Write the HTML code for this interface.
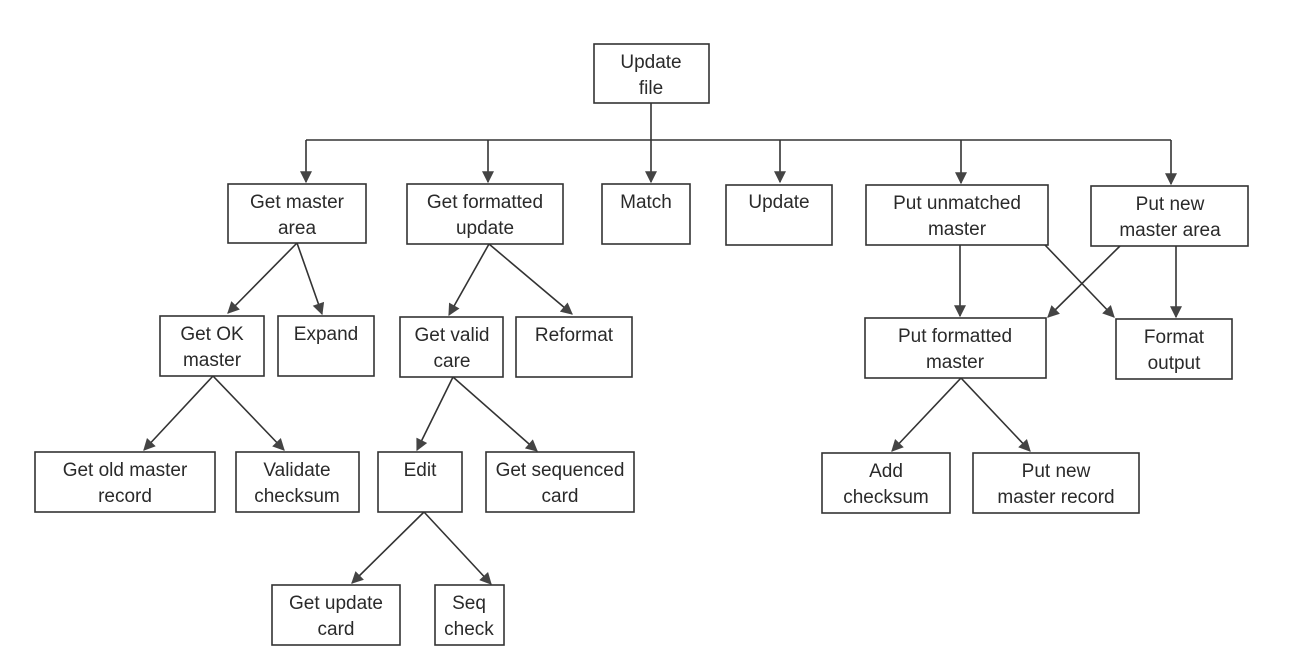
<!DOCTYPE html>
<html><head><meta charset="utf-8"><style>
html,body{margin:0;padding:0;background:#fff;}
svg{display:block;}
text{font-family:"Liberation Sans",sans-serif;font-size:19px;fill:#2a2a2a;text-anchor:middle;}
rect{fill:#fff;stroke:#333;stroke-width:1.6;}
line{stroke:#333;stroke-width:1.6;}
</style></head><body>
<svg width="1316" height="660" viewBox="0 0 1316 660" xmlns="http://www.w3.org/2000/svg">
<defs><marker id="a" viewBox="0 0 10 10" refX="9" refY="5" markerWidth="13" markerHeight="12" markerUnits="userSpaceOnUse" orient="auto"><path d="M0,0 L10,5 L0,10 z" fill="#444"/></marker></defs>
<line x1="651" y1="103" x2="651" y2="182" marker-end="url(#a)"/>
<line x1="306" y1="140" x2="1171" y2="140"/>
<line x1="306" y1="140" x2="306" y2="182" marker-end="url(#a)"/>
<line x1="488" y1="140" x2="488" y2="182" marker-end="url(#a)"/>
<line x1="780" y1="140" x2="780" y2="182" marker-end="url(#a)"/>
<line x1="961" y1="140" x2="961" y2="183" marker-end="url(#a)"/>
<line x1="1171" y1="140" x2="1171" y2="184" marker-end="url(#a)"/>
<line x1="297" y1="243" x2="228" y2="313" marker-end="url(#a)"/>
<line x1="297" y1="243" x2="322" y2="314" marker-end="url(#a)"/>
<line x1="489" y1="244" x2="449" y2="315" marker-end="url(#a)"/>
<line x1="489" y1="244" x2="572" y2="314" marker-end="url(#a)"/>
<line x1="960" y1="245" x2="960" y2="316" marker-end="url(#a)"/>
<line x1="1045" y1="245" x2="1114" y2="317" marker-end="url(#a)"/>
<line x1="1120" y1="246" x2="1048" y2="317" marker-end="url(#a)"/>
<line x1="1176" y1="246" x2="1176" y2="317" marker-end="url(#a)"/>
<line x1="213" y1="376" x2="144" y2="450" marker-end="url(#a)"/>
<line x1="213" y1="376" x2="284" y2="450" marker-end="url(#a)"/>
<line x1="453" y1="377" x2="417" y2="450" marker-end="url(#a)"/>
<line x1="453" y1="377" x2="537" y2="451" marker-end="url(#a)"/>
<line x1="961" y1="378" x2="892" y2="451" marker-end="url(#a)"/>
<line x1="961" y1="378" x2="1030" y2="451" marker-end="url(#a)"/>
<line x1="424" y1="512" x2="352" y2="583" marker-end="url(#a)"/>
<line x1="424" y1="512" x2="491" y2="584" marker-end="url(#a)"/>
<rect x="594" y="44" width="115" height="59"/><text x="651" y="68">Update</text><text x="651" y="94">file</text>
<rect x="228" y="184" width="138" height="59"/><text x="297" y="208">Get master</text><text x="297" y="234">area</text>
<rect x="407" y="184" width="156" height="60"/><text x="485" y="208">Get formatted</text><text x="485" y="234">update</text>
<rect x="602" y="184" width="88" height="60"/><text x="646" y="208">Match</text>
<rect x="726" y="185" width="106" height="60"/><text x="779" y="208">Update</text>
<rect x="866" y="185" width="182" height="60"/><text x="957" y="209">Put unmatched</text><text x="957" y="235">master</text>
<rect x="1091" y="186" width="157" height="60"/><text x="1170" y="210">Put new</text><text x="1170" y="236">master area</text>
<rect x="160" y="316" width="104" height="60"/><text x="212" y="340">Get OK</text><text x="212" y="366">master</text>
<rect x="278" y="316" width="96" height="60"/><text x="326" y="340">Expand</text>
<rect x="400" y="317" width="103" height="60"/><text x="452" y="341">Get valid</text><text x="452" y="367">care</text>
<rect x="516" y="317" width="116" height="60"/><text x="574" y="341">Reformat</text>
<rect x="865" y="318" width="181" height="60"/><text x="955" y="342">Put formatted</text><text x="955" y="368">master</text>
<rect x="1116" y="319" width="116" height="60"/><text x="1174" y="343">Format</text><text x="1174" y="369">output</text>
<rect x="35" y="452" width="180" height="60"/><text x="125" y="476">Get old master</text><text x="125" y="502">record</text>
<rect x="236" y="452" width="123" height="60"/><text x="297" y="476">Validate</text><text x="297" y="502">checksum</text>
<rect x="378" y="452" width="84" height="60"/><text x="420" y="476">Edit</text>
<rect x="486" y="452" width="148" height="60"/><text x="560" y="476">Get sequenced</text><text x="560" y="502">card</text>
<rect x="822" y="453" width="128" height="60"/><text x="886" y="477">Add</text><text x="886" y="503">checksum</text>
<rect x="973" y="453" width="166" height="60"/><text x="1056" y="477">Put new</text><text x="1056" y="503">master record</text>
<rect x="272" y="585" width="128" height="60"/><text x="336" y="609">Get update</text><text x="336" y="635">card</text>
<rect x="435" y="585" width="69" height="60"/><text x="469" y="609">Seq</text><text x="469" y="635">check</text>
</svg>
</body></html>
